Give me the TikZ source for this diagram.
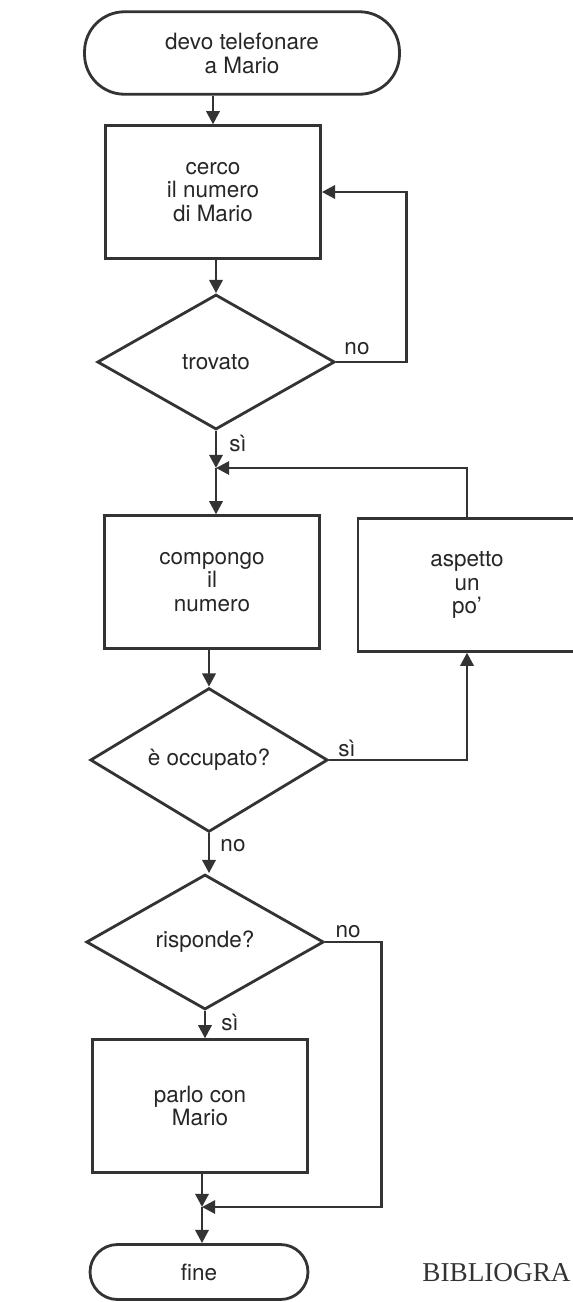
\documentclass[tikz,border=0pt]{standalone}
\usepackage{fontspec}
\setmainfont{TeX Gyre Heros}
\newfontfamily\bookfont{Liberation Serif}
\usetikzlibrary{arrows.meta,shapes.geometric}

\begin{document}
\begin{tikzpicture}[x=0.02cm, y=-0.02cm,
      every node/.style={font=\fontsize{12.8}{13.6}\selectfont, text=black!85},
      term/.style={draw=black!80, line width=1.6pt, rounded corners=0.8cm,
                   minimum width=6.3cm, minimum height=1.65cm, align=center},
      proc/.style={draw=black!80, line width=1.6pt, minimum width=4.3cm,
                   minimum height=2.65cm, inner sep=0pt, align=center},
      dec/.style={draw=black!80, line width=1.6pt, diamond, minimum width=4.75cm,
                  minimum height=2.7cm, inner sep=0pt},
      flow/.style={draw=black!80, line width=1.6pt, -{Triangle[length=7.5pt,width=7.5pt]}},
      lbl/.style={inner sep=0pt},
    ]
    \useasboundingbox (0,0) rectangle (572,1302);

    % --- search the number ---
    \node[term] (start) at (242,53) {devo telefonare\\a Mario};
    \node[proc] (cerco) at (213,192) {cerco\\il numero\\di Mario};
    \node[dec] (trovato) at (216,362) {trovato};
    \coordinate (m1) at (216,468);

    \draw[flow] (start.south -| cerco.north) -- (cerco.north);
    \draw[flow] (cerco.south -| trovato.north) -- (trovato.north);
    \draw[flow] (trovato.east) -- ++(70,0) |- (cerco.east);
    \node[lbl] (no1) at (357,349) {no};
    \draw[flow] (trovato.south) -- (m1);
    \node[lbl] (si1) at (238,443) {sì};

    % --- dial, wait if busy ---
    \node[proc] (compongo) at (212,582) {compongo\\il\\numero};
    \node[proc, minimum width=4.36cm] (aspetto) at (467,585) {aspetto\\un\\po'};
    \node[dec] (occupato) at (209,760) {è occupato?};

    \draw[flow] (aspetto.north) |- (m1);
    \draw[flow] (m1) -- (m1 |- compongo.north);
    \draw[flow] (compongo.south -| occupato.north) -- (occupato.north);
    \draw[flow] (occupato.east) -| (aspetto.south);
    \node[lbl] (si2) at (347,748) {sì};

    % --- answer or not ---
    \node[dec] (risponde) at (205,942) {risponde?};
    \node[proc] (parlo) at (200,1106) {parlo con\\Mario};
    \coordinate (m2) at (202,1207);
    \node[term, minimum width=4.36cm, minimum height=1.1cm,
          rounded corners=0.55cm] (fine) at (199,1272) {fine};

    \draw[flow] (occupato.south) -- (occupato.south |- risponde.north);
    \node[lbl] (no2) at (233,846) {no};
    \draw[flow] (risponde.south) -- (risponde.south |- parlo.north);
    \node[lbl] (si3) at (230,1022) {sì};
    \draw[flow] (risponde.east) -- ++(56,0) |- (m2);
    \node[lbl] (no3) at (348,932) {no};
    \draw[flow] (parlo.south -| m2) -- (m2);
    \draw[flow] (m2) -- (m2 |- fine.north);

    \node[font=\bookfont\fontsize{15.5}{18}\selectfont, anchor=base west,
          inner sep=0pt, text=black!80] (biblio) at (422,1281) {BIBLIOGRA};
  \end{tikzpicture}
\end{document}
